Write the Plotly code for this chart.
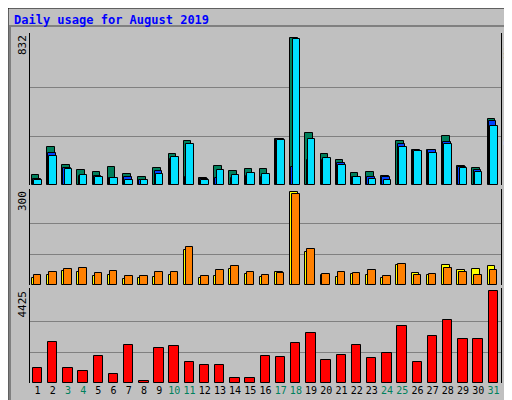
import plotly.graph_objects as go

days = list(range(1, 32))
weekend = [3, 4, 10, 11, 17, 18, 24, 25, 31]

hits = [55, 218, 111, 83, 75, 100, 60, 43, 94, 173, 252, 38, 105, 77, 88, 88,
        259, 832, 292, 173, 139, 66, 72, 49, 252, 196, 201, 280, 105, 94, 376]
files = [32, 179, 94, 49, 49, 38, 43, 26, 77, 145, 43, 32, 38, 38, 49, 43,
         262, 100, 139, 139, 122, 43, 43, 43, 235, 196, 196, 241, 100, 83, 360]
pages = [26, 162, 88, 55, 43, 38, 26, 26, 60, 156, 230, 26, 83, 55, 66, 60,
         255, 826, 258, 151, 111, 43, 32, 26, 218, 190, 179, 230, 94, 72, 337]
visits = [22, 31, 44, 41, 28, 31, 18, 22, 25, 31, 113, 22, 28, 51, 35, 25,
          41, 300, 106, 31, 25, 35, 31, 22, 64, 38, 31, 64, 48, 51, 61]
sites = [31, 41, 51, 54, 38, 44, 28, 28, 41, 41, 122, 28, 48, 61, 41, 31,
         38, 295, 116, 35, 41, 38, 48, 28, 67, 31, 35, 54, 41, 31, 48]
kbytes = [700, 1960, 700, 600, 1300, 450, 1810, 100, 1710, 1760, 1000, 850, 850, 250, 250,
          1300, 1260, 1910, 2410, 1100, 1360, 1810, 1200, 1460, 2760, 1000, 2260, 3020,
          2110, 2110, 4425]

fig = go.Figure()
line = dict(color="black", width=1)

def add_bar(vals, color, offset, width, yaxis):
    fig.add_trace(go.Bar(x=days, y=vals, marker=dict(color=color, line=line),
                         offset=offset, width=width, xaxis="x", yaxis=yaxis,
                         showlegend=False, hoverinfo="y"))

add_bar(hits, "#00805C", -0.38, 0.5, "y")
add_bar(files, "#0040FF", -0.3, 0.5, "y")
add_bar(pages, "#00E0FF", -0.22, 0.5, "y")
add_bar(visits, "#FFFF00", -0.38, 0.5, "y2")
add_bar(sites, "#FF8000", -0.25, 0.5, "y2")
add_bar(kbytes, "#FF0000", -0.32, 0.62, "y3")

ticktext = [f'<span style="color:#00805C">{d}</span>' if d in weekend else str(d) for d in days]

axis_common = dict(showgrid=True, gridcolor="#808080", gridwidth=1, showticklabels=False,
                   ticks="", zeroline=False, showline=True, linecolor="black", linewidth=1,
                   mirror=True)

def side_label(text, color, top, bottom):
    return dict(text=text, x=501 / 512, y=1 - (top + bottom) / 800, textangle=-90,
                xref="paper", yref="paper", xanchor="center", yanchor="middle",
                showarrow=False, font=dict(color=color, size=11))

fig.update_layout(
    width=512, height=400,
    paper_bgcolor="#C0C0C0", plot_bgcolor="#C0C0C0",
    margin=dict(l=0, r=0, t=0, b=0),
    barmode="overlay", bargap=0,
    font=dict(family="DejaVu Sans Mono", size=11, color="black"),
    xaxis=dict(domain=[22 / 512, 493 / 512], range=[0.5, 31.5], tickvals=days,
               ticktext=ticktext, ticks="", tickangle=0, showgrid=False, zeroline=False,
               showline=False, anchor="y3", tickfont=dict(size=10)),
    yaxis=dict(domain=[1 - 177 / 400, 1 - 25 / 400], range=[0, 832 * 1.035],
               tickvals=[277, 555], **axis_common),
    yaxis2=dict(domain=[1 - 277 / 400, 1 - 181 / 400], range=[0, 300 * 1.035],
                tickvals=[100, 200], anchor="x", **axis_common),
    yaxis3=dict(domain=[1 - 375 / 400, 1 - 280 / 400], range=[0, 4425 * 1.035],
                tickvals=[1475, 2950], anchor="x", **axis_common),
    annotations=[
        dict(text="<b>Daily usage for August 2019</b>", x=4 / 512, y=1 - 3 / 400,
             xref="paper", yref="paper", xanchor="left", yanchor="top", showarrow=False,
             font=dict(color="#0000FF", size=12, family="DejaVu Sans Mono")),
        dict(text="832", x=14 / 512, y=1 - 25 / 400, textangle=-90, xref="paper", yref="paper",
             xanchor="center", yanchor="top", showarrow=False),
        dict(text="300", x=14 / 512, y=1 - 181 / 400, textangle=-90, xref="paper", yref="paper",
             xanchor="center", yanchor="top", showarrow=False),
        dict(text="4425", x=14 / 512, y=1 - 281 / 400, textangle=-90, xref="paper", yref="paper",
             xanchor="center", yanchor="top", showarrow=False),
        side_label("Hits", "#00805C", 28, 48),
        side_label("/", "#000000", 52, 60),
        side_label("Files", "#0040FF", 63, 95),
        side_label("/", "#000000", 98, 103),
        side_label("Pages", "#00E0FF", 106, 138),
        side_label("Visits", "#FFFF00", 198, 235),
        side_label("/", "#000000", 238, 243),
        side_label("Sites", "#FF8000", 246, 275),
        side_label("KBytes", "#FF0000", 335, 373),
    ],
    shapes=[
        dict(type="rect", xref="paper", yref="paper", x0=0, y0=0, x1=1, y1=1,
             line=dict(color="black", width=1)),
        dict(type="rect", xref="paper", yref="paper", x0=2 / 512, y0=4 / 400,
             x1=508 / 512, y1=1 - 18 / 400, line=dict(color="#808080", width=2)),
    ],
)

fig.write_html("out.html")
